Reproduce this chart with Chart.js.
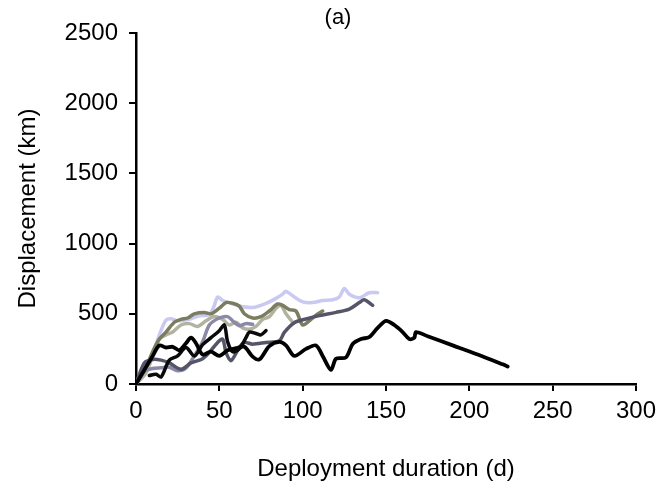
<!DOCTYPE html>
<html>
<head>
<meta charset="utf-8">
<script src="https://cdn.jsdelivr.net/npm/chart.js@4.4.1/dist/chart.umd.min.js"></script>
<style>
  html, body { margin: 0; padding: 0; background: #fff; }
  #wrap { width: 662px; height: 489px; }
</style>
</head>
<body>
<div id="wrap"><canvas id="dispChart" width="662" height="489"></canvas></div>
<script>
// tick labels
const xTicks = [0, 50, 100, 150, 200, 250, 300];
const yTicks = [0, 500, 1000, 1500, 2000, 2500];

// float tracks (days, km)
const longBlackDays = [0, 5, 10, 14, 18, 22, 26, 30, 33, 36, 40, 45, 50, 55, 60, 65, 70, 74, 80, 86, 90, 95, 102, 108, 112, 117, 120, 126, 130, 135, 140, 145, 150, 155, 160, 164, 167, 168, 175, 190, 205, 220, 223];
const longBlackKm   = [0, 100, 200, 275, 260, 265, 240, 290, 330, 290, 210, 230, 200, 240, 255, 265, 195, 175, 270, 300, 275, 200, 250, 275, 200, 100, 180, 190, 285, 320, 335, 400, 450, 420, 370, 320, 330, 370, 340, 275, 210, 140, 125];

const shortBlackDays = [8, 12, 15, 20, 25, 30, 35, 40, 45, 50, 53, 55, 58, 62, 66, 68, 72, 75, 78];
const shortBlackKm   = [60, 70, 50, 170, 200, 260, 200, 280, 330, 380, 420, 300, 230, 250, 330, 370, 360, 350, 380];

const darkGreyDays = [0, 5, 10, 15, 20, 27, 33, 40, 44, 49, 52, 54, 57, 62, 65, 70, 78, 86, 89, 95, 102, 110, 120, 128, 134, 137, 142];
const darkGreyKm   = [0, 150, 175, 170, 150, 105, 150, 180, 225, 296, 320, 225, 166, 261, 296, 284, 296, 308, 368, 437, 463, 487, 510, 534, 580, 600, 560];

const midGreyDays = [0, 5, 10, 15, 20, 25, 30, 35, 40, 44, 50, 55, 58, 62, 66, 70];
const midGreyKm   = [0, 90, 110, 115, 120, 95, 115, 200, 300, 420, 470, 480, 450, 415, 430, 425];

const lavenderDays = [0, 5, 10, 15, 18, 21, 25, 29, 33, 38, 44, 47, 49, 52, 57, 62, 70, 78, 84, 88, 90, 95, 100, 106, 112, 118, 122, 125, 128, 134, 140, 145];
const lavenderKm   = [0, 100, 220, 380, 455, 465, 450, 455, 465, 485, 495, 560, 620, 595, 575, 555, 545, 575, 610, 640, 660, 620, 585, 580, 595, 600, 620, 680, 640, 615, 650, 650];

const oliveDays = [0, 6, 10, 14, 18, 23, 27, 31, 35, 41, 45, 50, 54, 58, 62, 65, 70, 75, 80, 85, 88, 92, 96, 100, 104, 108, 112];
const oliveKm   = [0, 120, 230, 320, 370, 440, 460, 470, 500, 510, 500, 540, 580, 575, 555, 500, 470, 480, 520, 570, 560, 530, 520, 420, 450, 490, 520];

const paleOliveDays = [0, 6, 10, 14, 18, 22, 27, 32, 37, 42, 47, 52, 56, 60, 64, 68, 72, 76, 80, 84, 87, 90, 94];
const paleOliveKm   = [0, 80, 200, 320, 350, 370, 420, 430, 410, 450, 480, 460, 420, 440, 400, 390, 410, 460, 480, 540, 560, 500, 440];

const pts = (xs, ys) => xs.map((x, i) => ({ x: x, y: ys[i] }));

function track(days, km, color, width) {
    return {
        data: pts(days, km),
        borderColor: color,
        borderWidth: width,
        showLine: true,
        pointRadius: 0,
        tension: 0.3,
        borderJoinStyle: 'round',
        borderCapStyle: 'round',
        fill: false
    };
}

const font = 'Arial, "Liberation Sans", sans-serif';

// panel label "(a)" sits a little right of the canvas centre
const panelLabel = {
    id: 'panelLabel',
    afterDraw(chart) {
        const ctx = chart.ctx;
        ctx.save();
        ctx.fillStyle = '#000';
        ctx.font = '22px ' + font;
        ctx.textAlign = 'center';
        ctx.textBaseline = 'middle';
        ctx.fillText('(a)', chart.width / 2 + 7, 18);
        ctx.restore();
    }
};

new Chart(document.getElementById('dispChart'), {
    type: 'scatter',
    data: {
        datasets: [
            track(longBlackDays, longBlackKm, '#000000', 3.8),
            track(shortBlackDays, shortBlackKm, '#0a0a0a', 3.5),
            track(darkGreyDays, darkGreyKm, '#55556a', 3.5),
            track(midGreyDays, midGreyKm, '#8a8aa6', 3.5),
            track(oliveDays, oliveKm, '#7c7c60', 3.5),
            track(paleOliveDays, paleOliveKm, '#b2b2a0', 3.5),
            track(lavenderDays, lavenderKm, '#c9c9f2', 3.5)
        ]
    },
    options: {
        responsive: false,
        animation: false,
        layout: { padding: { left: 0, right: 25, top: 33, bottom: 0 } },
        plugins: {
            legend: { display: false },
            tooltip: { enabled: false },
            title: { display: false }
        },
        scales: {
            x: {
                type: 'linear',
                min: 0,
                max: 300,
                afterBuildTicks: (s) => { s.ticks = xTicks.map(v => ({ value: v })); },
                afterFit: (s) => { s.height = 105; },
                ticks: { color: '#000', font: { family: font, size: 24 }, padding: 6, maxRotation: 0, callback: (v) => String(v) },
                grid: { drawOnChartArea: false, drawTicks: true, tickLength: 7, color: '#000', lineWidth: 2 },
                border: { color: '#000', width: 2.5 },
                title: {
                    display: true,
                    text: 'Deployment duration (d)',
                    color: '#000',
                    font: { family: font, size: 24 },
                    padding: { top: 4, bottom: 5 }
                }
            },
            y: {
                min: 0,
                max: 2500,
                afterBuildTicks: (s) => { s.ticks = yTicks.map(v => ({ value: v })); },
                afterFit: (s) => { s.width = 136; },
                ticks: { color: '#000', font: { family: font, size: 24 }, padding: 11, callback: (v) => String(v) },
                grid: { drawOnChartArea: false, drawTicks: true, tickLength: 7, color: '#000', lineWidth: 2 },
                border: { color: '#000', width: 2.5 },
                title: {
                    display: true,
                    text: 'Displacement (km)',
                    color: '#000',
                    font: { family: font, size: 24 },
                    padding: { top: 14, bottom: 4 }
                }
            }
        }
    },
    plugins: [panelLabel]
});
</script>
</body>
</html>
